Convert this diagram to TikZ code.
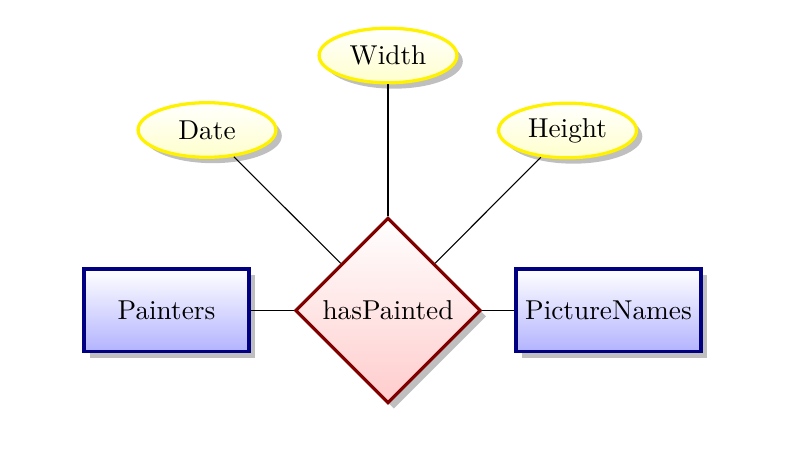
\documentclass[tikz,border=0pt]{standalone}
\usetikzlibrary{shapes.geometric,shadows}
\begin{document}
\begin{tikzpicture}[x=0.3663pt,y=-0.3663pt,
  entity/.style={rectangle, draw=blue!50!black, very thick, top color=white, bottom color=blue!30,
    drop shadow, minimum width=60.5pt, minimum height=30.3pt, inner sep=0.333em},
  attrib/.style={ellipse, draw=yellow, very thick, top color=white, bottom color=yellow!20,
    drop shadow, minimum width=50.5pt, minimum height=20pt, inner sep=0pt},
  relation/.style={diamond, aspect=1, draw=red!50!black, very thick, top color=white, bottom color=red!20,
    drop shadow, minimum width=68pt, minimum height=68pt, inner sep=0pt},
  conn/.style={draw=black, thin}]
\useasboundingbox (0,0) rectangle (797,465);
\node[entity] (painters) at (166.5,310.5) {Painters};
\node[relation] (rel) at (388,310.5) {hasPainted};
\node[entity] (pics) at (608.5,310.5) {PictureNames};
\node[attrib] (date) at (207,130) {Date};
\node[attrib] (width) at (388,55.5) {Width};
\node[attrib] (height) at (567.5,130.5) {Height};
\draw[conn] (painters) -- (rel);
\draw[conn] (rel) -- (pics);
\draw[conn] (date) -- (rel);
\draw[conn] (width.south) -- (rel.north);
\draw[conn] (height) -- (rel);
\end{tikzpicture}
\end{document}
